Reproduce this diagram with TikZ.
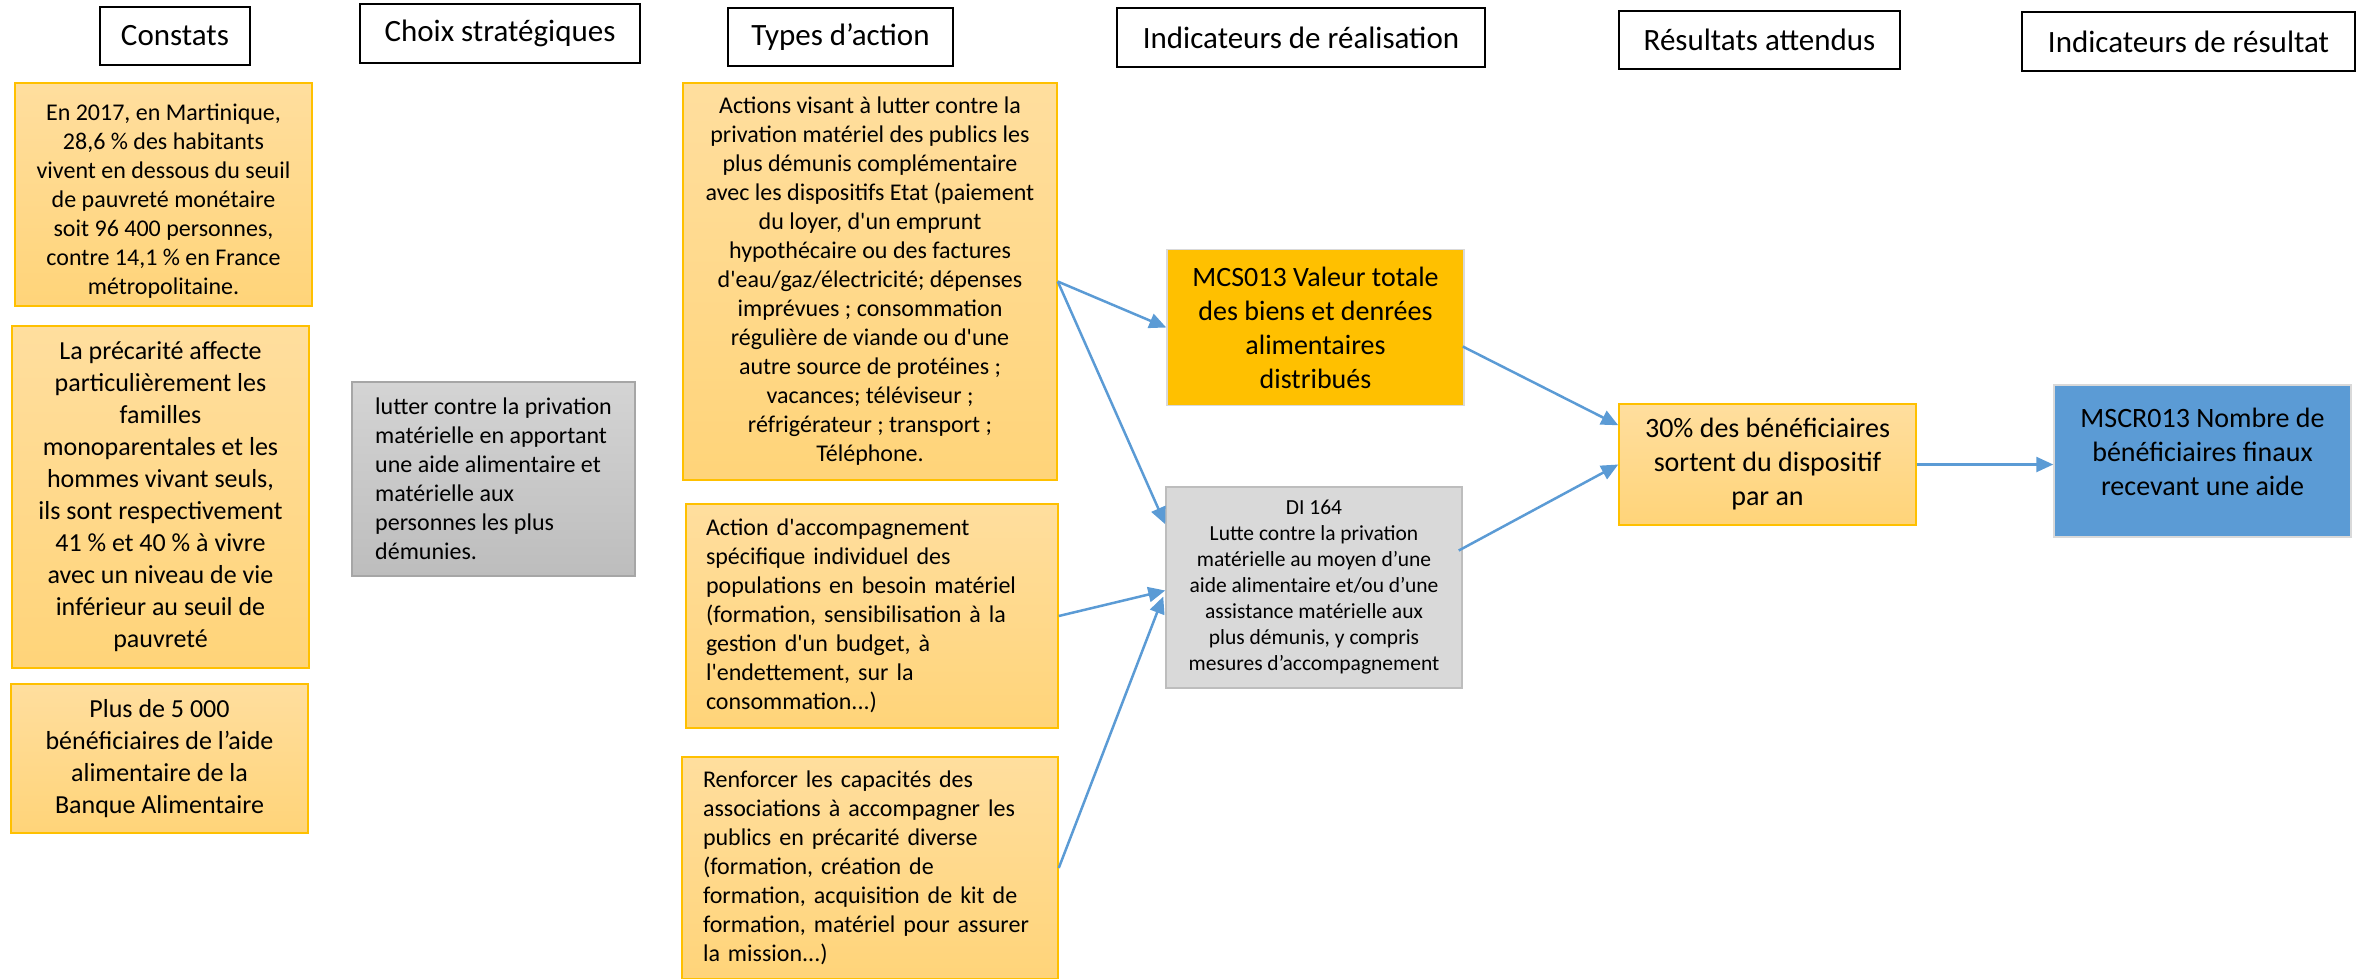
\documentclass[tikz,border=0pt]{standalone}
\usepackage{fontspec}
\setmainfont{Carlito}
\newfontfamily\calib{Carlito}
\usetikzlibrary{arrows.meta,calc}
\definecolor{orgtop}{HTML}{FFDE9E}
\definecolor{orgbot}{HTML}{FFD479}
\definecolor{orgline}{HTML}{FFC000}
\definecolor{gold}{HTML}{FFC000}
\definecolor{bluebox}{HTML}{5B9BD5}
\definecolor{arrowblue}{HTML}{5B9BD5}
\definecolor{grtop}{HTML}{D4D4D4}
\definecolor{grbot}{HTML}{BDBDBD}
\definecolor{grline}{HTML}{A6A6A6}
\definecolor{lightgray}{HTML}{D9D9D9}
\tikzset{
  hdr/.style={draw=black, line width=2pt, fill=white, inner sep=0pt,
    font=\calib\fontsize{31}{37}\selectfont},
  obox/.style={draw=orgline, line width=1.5pt, top color=orgtop, bottom color=orgbot,
    inner sep=0pt},
  gbox/.style={draw=grline, line width=1.5pt, top color=grtop, bottom color=grbot,
    inner sep=0pt},
  flat/.style={draw=#1, line width=1.5pt, inner sep=0pt},
  conn/.style={draw=arrowblue, line width=2.5pt, -{Triangle[length=17pt,width=15pt]}},
  fA/.style={font=\calib\fontsize{24}{29}\selectfont},
  fB/.style={font=\calib\fontsize{26}{32}\selectfont},
  fC/.style={font=\calib\fontsize{28}{34}\selectfont},
}
\begin{document}
\begin{tikzpicture}[x=1pt,y=-1pt]
\useasboundingbox (0,0) rectangle (2369,978);
\clip (0,0) rectangle (2369,978);
% headers
\node[hdr, minimum width=150pt, minimum height=58pt] (h1) at (175,36) {Constats};
\node[hdr, minimum width=280pt, minimum height=59pt] (h2) at (500,33) {Choix stratégiques};
\node[hdr, minimum width=225pt, minimum height=58pt] (h3) at (840.5,37) {Types d’action};
\node[hdr, minimum width=368pt, minimum height=59pt] (h4) at (1301,37.5) {Indicateurs de réalisation};
\node[hdr, minimum width=281pt, minimum height=58pt] (h5) at (1759.5,40) {Résultats attendus};
\node[hdr, minimum width=333pt, minimum height=59pt] (h6) at (2188.5,41.5) {Indicateurs de résultat};
% constats
\node[obox, fA, minimum width=297pt, minimum height=223pt, align=center] (c1) at (163.5,194.5)
 {\rule{0pt}{30pt}En 2017, en Martinique,\\28,6 \% des habitants\\vivent en dessous du seuil\\de pauvreté monétaire\\soit 96 400 personnes,\\contre 14,1 \% en France\\métropolitaine.};
\node[obox, fB, minimum width=297pt, minimum height=342pt, align=center] (c2) at (160.5,497)
 {La précarité affecte\\particulièrement les\\familles\\monoparentales et les\\hommes vivant seuls,\\ils sont respectivement\\41 \% et 40 \% à vivre\\avec un niveau de vie\\inférieur au seuil de\\pauvreté};
\node[obox, fB, minimum width=297pt, minimum height=149pt, align=center] (c3) at (159.5,758.5)
 {Plus de 5 000\\bénéficiaires de l’aide\\alimentaire de la\\Banque Alimentaire};
% choix
\node[gbox, fA, minimum width=283pt, minimum height=194pt, align=left] (ch) at (493.5,479)
 {lutter contre la privation\\matérielle en apportant\\une aide alimentaire et\\matérielle aux\\personnes les plus\\démunies.};
% actions
\node[obox, fA, minimum width=374pt, minimum height=397pt, align=center] (a1) at (870,281.5)
 {Actions visant à lutter contre la\\privation matériel des publics les\\plus démunis complémentaire\\avec les dispositifs Etat (paiement\\du loyer, d'un emprunt\\hypothécaire ou des factures\\d'eau/gaz/électricité; dépenses\\imprévues ; consommation\\régulière de viande ou d'une\\autre source de protéines ;\\vacances; téléviseur ;\\réfrigérateur ; transport ;\\Téléphone.};
\node[obox, fA, minimum width=372pt, minimum height=224pt, align=left, text width=332pt] (a2) at (872,616)
 {Action d'accompagnement\\spécifique individuel des\\populations en besoin matériel\\(formation, sensibilisation à la\\gestion d'un budget, à\\l'endettement, sur la\\consommation...)};
\node[obox, fA, minimum width=376pt, minimum height=222pt, align=left, text width=334pt] (a3) at (870,868)
 {Renforcer les capacités des\\associations à accompagner les\\publics en précarité diverse\\(formation, création de\\formation, acquisition de kit de\\formation, matériel pour assurer\\la mission...)};
% indicateurs de realisation
\node[flat=lightgray, fill=gold, fC, minimum width=297pt, minimum height=156pt, align=center] (mcs) at (1315.5,327.5)
 {MCS013 Valeur totale\\des biens et denrées\\alimentaires\\distribués};
\node[flat=grbot, fill=lightgray, font=\calib\fontsize{21.5}{26}\selectfont, minimum width=296pt, minimum height=201pt, align=center] (di) at (1314,587.5)
 {DI 164\\Lutte contre la privation\\matérielle au moyen d’une\\aide alimentaire et/ou d’une\\assistance matérielle aux\\plus démunis, y compris\\mesures d’accompagnement};
% resultats
\node[obox, fC, minimum width=297pt, minimum height=121pt, align=center] (res) at (1767.5,464.5)
 {30\% des bénéficiaires\\sortent du dispositif\\par an};
\node[flat=lightgray, fill=bluebox, fC, minimum width=297pt, minimum height=152pt, align=center] (ms) at (2202.5,461)
 {MSCR013 Nombre de\\bénéficiaires finaux\\recevant une aide\\[-16pt]};
% connectors
\draw[conn] (a1.east) -- (mcs.west);
\draw[conn] (a1.east) -- ($(di.north west)+(0,38)$);
\draw[conn] (a2.east) -- ($(di.west)+(0,3)$);
\draw[conn] (a3.east) -- ($(di.west)+(-2,9)$);
\draw[conn] ($(mcs.east)+(-2,19)$) -- ($(res.north west)+(0,22)$);
\draw[conn] ($(di.east)+(-4,-37)$) -- (res.west);
\draw[conn] (res.east) -- (ms.west |- res.east);
\end{tikzpicture}
\end{document}
